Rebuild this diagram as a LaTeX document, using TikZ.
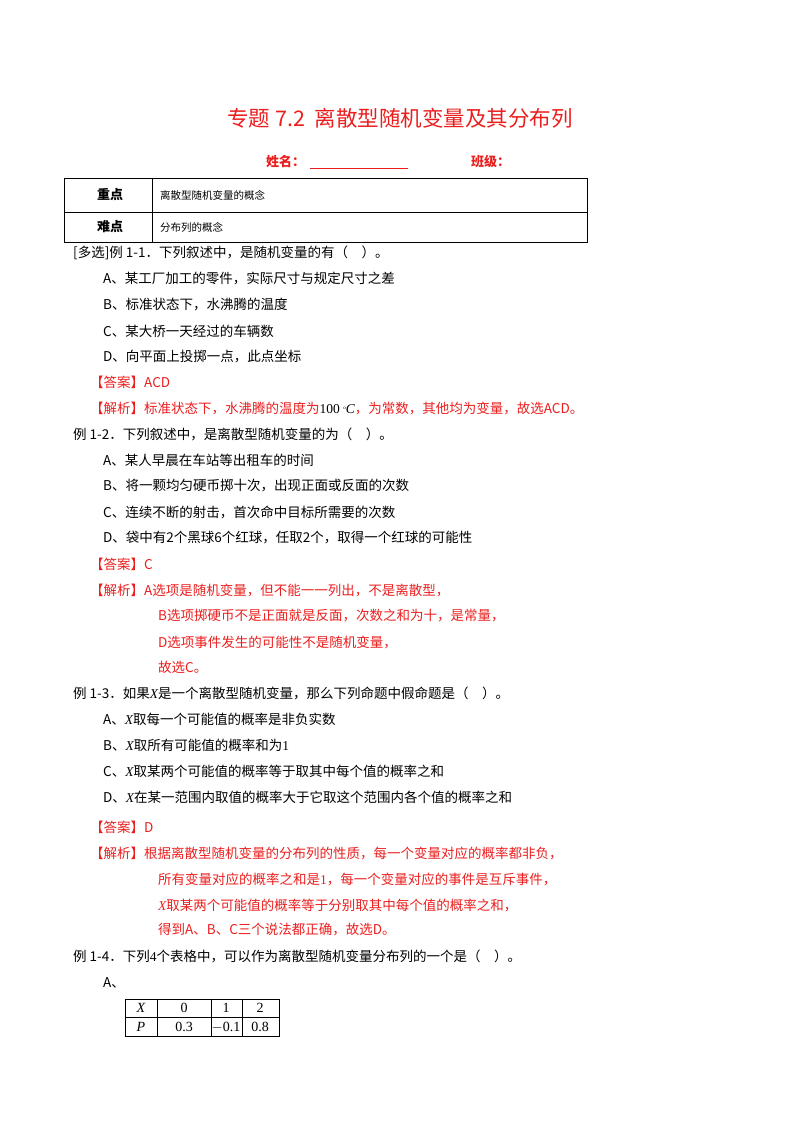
\documentclass[tikz,border=0pt]{standalone}
\usepackage{fontspec}
\setmainfont{Noto Sans CJK SC}
\newfontfamily\lser{Liberation Serif}
\newcommand\vX{{\lser\itshape X}}
\definecolor{ared}{RGB}{235,30,30}
\begin{document}
\begin{tikzpicture}[x=1pt,y=-1pt,
  ln/.style={anchor=west,inner sep=0pt,font=\fontsize{13.5}{15}\selectfont},
  rl/.style={ln,text=ared},
  cell/.style={anchor=west,inner sep=0pt,font=\fontsize{10.5}{12}\selectfont},
  hd/.style={inner sep=0pt,font=\bfseries\fontsize{13}{14}\selectfont}]
\useasboundingbox (0,0) rectangle (800,1132);
\node[inner sep=0pt,text=ared,font=\fontsize{21.5}{24}\selectfont] (title) at (400,118) {专题 7.2\ \ 离散型随机变量及其分布列};
\node[inner sep=0pt,anchor=west,text=ared,font=\bfseries\fontsize{13}{14}\selectfont] (name) at (266,162) {姓名：};
\draw[ared] (310,168) -- (408,168);
\node[inner sep=0pt,anchor=west,text=ared,font=\bfseries\fontsize{13}{14}\selectfont] (cls) at (471,162) {班级：};
% table
\draw[thick] (64,178) rectangle (587,242);
\draw (64,212) -- (587,212);
\draw (152,178) -- (152,242);
\node[hd] (zd) at (110,195) {重点};
\node[hd] (nd) at (110,227) {难点};
\node[cell] (c1) at (160,195) {离散型随机变量的概念};
\node[cell] (c2) at (160,227) {分布列的概念};
% text
\node[ln] (l1) at (73,253) {[多选]例 1-1．下列叙述中，是随机变量的有（\quad）。};
\node[ln] (l2) at (103,279) {A、某工厂加工的零件，实际尺寸与规定尺寸之差};
\node[ln] (l3) at (103,305) {B、标准状态下，水沸腾的温度};
\node[ln] (l4) at (103,331) {C、某大桥一天经过的车辆数};
\node[ln] (l5) at (103,357) {D、向平面上投掷一点，此点坐标};
\node[rl] (l6) at (90,382) {【答案】ACD};
\node[rl] (l7) at (90,408) {【解析】标准状态下，水沸腾的温度为\textcolor{black}{{\lser 100 }\raisebox{0.5ex}{\lser\tiny o}{\lser\itshape C}}，为常数，其他均为变量，故选ACD。};
\node[ln] (l8) at (73,434) {例 1-2．下列叙述中，是离散型随机变量的为（\quad）。};
\node[ln] (l9) at (103,460) {A、某人早晨在车站等出租车的时间};
\node[ln] (l10) at (103,486) {B、将一颗均匀硬币掷十次，出现正面或反面的次数};
\node[ln] (l11) at (103,512) {C、连续不断的射击，首次命中目标所需要的次数};
\node[ln] (l12) at (103,538) {D、袋中有2个黑球6个红球，任取2个，取得一个红球的可能性};
\node[rl] (l13) at (90,564) {【答案】C};
\node[rl] (l14) at (90,590) {【解析】A选项是随机变量，但不能一一列出，不是离散型，};
\node[rl] (l15) at (158,616) {B选项掷硬币不是正面就是反面，次数之和为十，是常量，};
\node[rl] (l16) at (158,642) {D选项事件发生的可能性不是随机变量，};
\node[rl] (l17) at (158,667) {故选C。};
\node[ln] (l18) at (73,693) {例 1-3．如果\vX{}是一个离散型随机变量，那么下列命题中假命题是（\quad）。};
\node[ln] (l19) at (103,719) {A、\vX{}取每一个可能值的概率是非负实数};
\node[ln] (l20) at (103,745) {B、\vX{}取所有可能值的概率和为{\lser 1}};
\node[ln] (l21) at (103,771) {C、\vX{}取某两个可能值的概率等于取其中每个值的概率之和};
\node[ln] (l22) at (103,797) {D、\vX{}在某一范围内取值的概率大于它取这个范围内各个值的概率之和};
\node[rl] (l23) at (90,827) {【答案】D};
\node[rl] (l24) at (90,853) {【解析】根据离散型随机变量的分布列的性质，每一个变量对应的概率都非负，};
\node[rl] (l25) at (158,879) {所有变量对应的概率之和是{\lser 1}，每一个变量对应的事件是互斥事件，};
\node[rl] (l26) at (158,905) {\vX{}取某两个可能值的概率等于分别取其中每个值的概率之和，};
\node[rl] (l27) at (158,930) {得到A、B、C三个说法都正确，故选D。};
\node[ln] (l28) at (73,956) {例 1-4．下列{\lser 4}个表格中，可以作为离散型随机变量分布列的一个是（\quad）。};
\node[ln] (l29) at (103,983) {A、};
% small table
\draw (125,999) rectangle (279,1036);
\draw (125,1017) -- (279,1017);
\foreach \x in {157,211,242} \draw (\x,999) -- (\x,1036);
\begin{scope}[every node/.style={inner sep=0pt,font=\lser\fontsize{14}{15}\selectfont}]
\node (tx) at (141,1008) {\itshape X};
\node (t0) at (184,1008) {0};
\node (t1) at (226,1008) {1};
\node (t2) at (260,1008) {2};
\node (tp) at (141,1027) {\itshape P};
\node (p0) at (184,1027) {0.3};
\node (p1) at (226,1027) {$-$0.1};
\node (p2) at (260,1027) {0.8};
\end{scope}
\end{tikzpicture}
\end{document}
